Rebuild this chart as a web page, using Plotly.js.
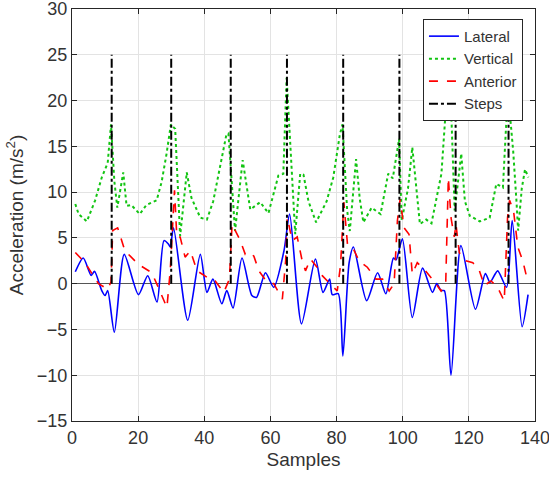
<!DOCTYPE html>
<html>
<head>
<meta charset="utf-8">
<script src="https://cdn.plot.ly/plotly-3.0.1.min.js"></script>
<style>html,body{margin:0;padding:0;background:#fff;}#chart{width:549px;height:479px;}</style>
</head>
<body>
<div id="chart"></div>
<script>
// Lateral acceleration (key samples)
const lateralX = [1, 3.4, 5.8, 6.8, 9.0, 10, 10.8, 12.8, 15.8, 20.1, 22.9, 25.7, 27.8, 29.2, 29.7, 30.7, 35.0, 38.8, 40.8, 42.6, 45.3, 46.8, 48.7, 51.4, 54.4, 55.8, 58.5, 61.0, 64.1, 65.8, 69.4, 73.6, 75.9, 77.9, 78.7, 80.5, 81.9, 83.8, 85.1, 89.1, 92.4, 94.9, 97.2, 98.0, 99.9, 102.9, 106.0, 109.0, 110.3, 111.6, 112.6, 114.6, 117.6, 122.0, 125.0, 126.4, 128.7, 131.4, 133.1, 136.1, 137.9];
const lateralY = [1.3, 2.8, 0.9, 1.35, -0.76, -1.3, -0.76, -5.3, 3.2, -1.2, 0.87, -2.0, 4.7, 4.3, 4.0, 6.1, -4.0, 3.2, -0.95, 0.5, -2.2, -0.76, -2.66, 2.8, -1.3, -1.5, 1.2, -0.4, 3.6, 7.6, -4.4, 2.7, -0.95, 0.5, -1.2, -1.1, -7.9, 2.3, 4.0, -1.86, 1.2, -1.1, 2.8, 2.6, 4.9, -3.7, 1.7, -0.95, 0, -0.76, -0.76, -10.0, 4.15, -2.8, 1.1, 0.15, 1.4, -0.4, 6.9, -4.7, -1.2];

// Vertical acceleration
const verticalX = [1, 2, 4.5, 7, 9, 10.8, 11.8, 12.8, 13.7, 15.5, 16.5, 17.9, 20.5, 22.5, 25.6, 27.1, 28.6, 29.9, 31.2, 32.7, 34.7, 36.1, 38.8, 40.8, 42.7, 44.7, 46.7, 47.3, 49.3, 51.6, 52.8, 53.9, 56.9, 59.4, 62.4, 63.9, 64.9, 66.0, 67.5, 69.0, 70.0, 71.5, 73.8, 77.0, 79.0, 81.0, 81.8, 83.2, 84.0, 85.9, 87.0, 88.1, 90.6, 93.3, 95.6, 97.0, 98.9, 99.7, 101.6, 102.9, 104.4, 105.2, 107.1, 108.7, 111.7, 113.4, 114.6, 115.7, 117.0, 117.7, 118.8, 120.3, 123.3, 126.3, 128.3, 130.3, 131.8, 133.4, 134.4, 134.9, 136.0, 137.0, 138.0];
const verticalY = [8.7, 7.6, 6.8, 9.1, 11.6, 13.2, 17.4, 11.2, 8.3, 12.15, 8.5, 8.6, 7.6, 8.6, 9.1, 11.1, 14.2, 17.4, 16.9, 5.2, 12.15, 9.4, 7.2, 7.0, 9.0, 12.5, 16.3, 16.4, 5.75, 13.5, 10.5, 8.1, 8.9, 7.7, 11.8, 12.0, 22.5, 14.9, 5.4, 12.0, 11.9, 9.0, 6.7, 9.0, 11.6, 16.3, 17.4, 8.0, 5.75, 13.6, 9.3, 6.7, 8.3, 7.6, 12.0, 11.5, 15.8, 6.9, 10.4, 14.9, 9.0, 6.5, 7.0, 6.6, 12.0, 21.0, 19.5, 8.0, 12.0, 14.2, 9.0, 7.4, 6.8, 7.2, 10.9, 10.5, 21.0, 14.5, 9.0, 5.8, 10.4, 12.5, 11.6];

// Anterior acceleration
const anteriorX = [1, 3.9, 8.0, 10.8, 11.8, 12.3, 13.8, 16.0, 20.1, 24.1, 25.6, 28.7, 29.7, 31.0, 31.7, 32.7, 34.2, 35.8, 37.8, 40.8, 43.3, 45.9, 47.6, 48.4, 50.9, 52.4, 53.9, 55.0, 56.5, 58.5, 61.0, 63.6, 64.6, 65.1, 66.6, 68.1, 69.6, 70.6, 72.1, 74.1, 75.6, 78.7, 80.2, 81.2, 82.2, 83.3, 84.8, 86.8, 89.3, 91.9, 93.9, 95.9, 97.4, 98.4, 99.2, 100.4, 101.9, 102.9, 104.4, 106.9, 109.4, 111.6, 113.0, 113.8, 114.6, 115.6, 116.1, 117.1, 119.1, 121.2, 123.2, 124.7, 126.7, 128.7, 130.7, 131.7, 132.3, 133.5, 134.8, 136.3, 137.3];
const anteriorY = [3.4, 2.3, 0, -0.6, 0.2, 5.8, 6.1, 3.6, 2.1, 1.2, 0, -2.6, 1.4, 10.2, 5.1, 5.1, 2.9, 3.6, 1.4, 0.7, 0.3, -0.95, 0.5, 6.5, 4.7, 3.2, 3.4, 3.0, 1.4, 0.4, 0, -1.7, 2.5, 7.2, 4.7, 5.1, 2.5, 1.4, 2.7, 1.8, 0.9, -0.2, -0.8, 2.0, 8.9, 4.3, 4.0, 2.5, 1.8, 0.5, 0.5, -0.8, 0, 6.9, 9.2, 6.1, 5.4, 1.05, 2.3, 1.4, 0.3, -0.8, 0, 11.6, 7.2, 5.1, 6.5, 3.4, 2.5, 2.3, 1.4, -0.2, 0.3, -0.4, -1.9, 7.2, 9.1, 8.0, 4.0, 2.5, 1.0];

// Detected steps
const stepSamples = [12, 30, 48, 65, 82, 99, 116, 132];
const stepHeight = 25;

const xTicks = [0, 20, 40, 60, 80, 100, 120, 140];
const yTicks = [-15, -10, -5, 0, 5, 10, 15, 20, 25, 30];

const stepX = [], stepY = [];
stepSamples.forEach(s => { stepX.push(s, s, null); stepY.push(0, stepHeight, null); });

const font = "'Liberation Sans', Arial, sans-serif";
const txt = '#333333';

const traces = [
  {x: lateralX, y: lateralY, name: 'Lateral', mode: 'lines',
   line: {color: '#0000ff', width: 1.6, shape: 'spline', smoothing: 0.7}},
  {x: verticalX, y: verticalY, name: 'Vertical', mode: 'lines',
   line: {color: '#12c412', width: 2, dash: 'dot'}},
  {x: anteriorX, y: anteriorY, name: 'Anterior', mode: 'lines',
   line: {color: '#ff0000', width: 1.6, dash: 'dash'}},
  {x: stepX, y: stepY, name: 'Steps', mode: 'lines',
   line: {color: '#000000', width: 2, dash: 'dashdot'}}
];

const axisCommon = {
  showline: true, mirror: 'ticks', linecolor: '#262626', linewidth: 1,
  ticks: 'inside', ticklen: 5, tickcolor: '#262626',
  showgrid: true, gridcolor: '#e3e3e3', gridwidth: 1,
  ticklabeloverflow: 'allow',
  tickfont: {family: font, size: 18, color: txt}
};

const layout = {
  width: 549, height: 479,
  margin: {l: 72, r: 14, t: 9, b: 58},
  paper_bgcolor: '#ffffff', plot_bgcolor: '#ffffff',
  showlegend: true,
  xaxis: Object.assign({}, axisCommon, {
    range: [0, 140], tickvals: xTicks, zeroline: false,
    title: {text: 'Samples', font: {family: font, size: 19, color: txt}, standoff: 6}
  }),
  yaxis: Object.assign({}, axisCommon, {
    range: [-15, 30], tickvals: yTicks,
    zeroline: true, zerolinecolor: '#555555', zerolinewidth: 1.2,
    title: {text: 'Acceleration (m/s<sup>2</sup>)', font: {family: font, size: 19, color: txt}, standoff: 8}
  }),
  legend: {
    x: 0.974, y: 0.976, xanchor: 'right', yanchor: 'top',
    bgcolor: '#ffffff', bordercolor: '#262626', borderwidth: 1,
    font: {family: font, size: 15, color: txt},
    tracegroupgap: 0, itemwidth: 30
  }
};

Plotly.newPlot('chart', traces, layout, {displayModeBar: false, staticPlot: true});
</script>
</body>
</html>
